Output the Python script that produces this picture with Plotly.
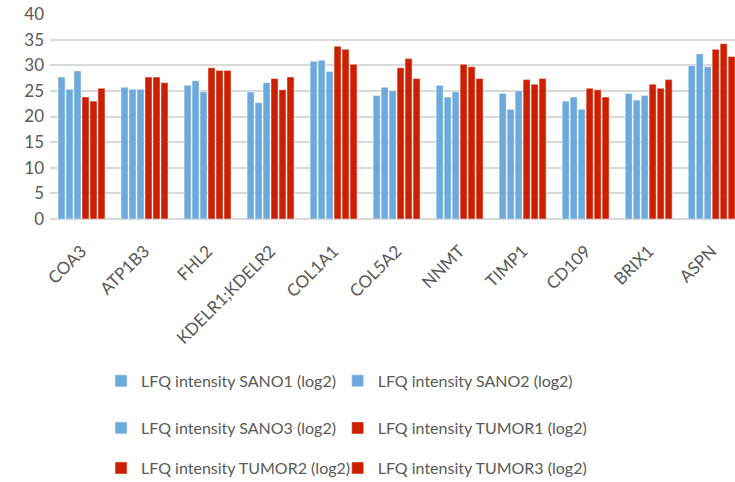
import plotly.graph_objects as go

proteins = ["COA3", "ATP1B3", "FHL2", "KDELR1;KDELR2", "COL1A1", "COL5A2",
            "NNMT", "TIMP1", "CD109", "BRIX1", "ASPN"]

sano1 = [27.7, 25.7, 26.1, 24.8, 30.8, 24.1, 26.1, 24.5, 23.0, 24.5, 29.9]
sano2 = [25.3, 25.3, 27.0, 22.7, 31.0, 25.7, 23.8, 21.4, 23.8, 23.2, 32.2]
sano3 = [28.9, 25.3, 24.8, 26.6, 28.8, 25.0, 24.8, 25.0, 21.4, 24.1, 29.7]
tumor1 = [23.8, 27.7, 29.5, 27.4, 33.7, 29.5, 30.2, 27.2, 25.5, 26.3, 33.1]
tumor2 = [23.0, 27.7, 29.0, 25.2, 33.1, 31.3, 29.7, 26.3, 25.2, 25.5, 34.2]
tumor3 = [25.5, 26.6, 29.0, 27.7, 30.2, 27.4, 27.4, 27.4, 23.8, 27.2, 31.7]

series = [
    ("LFQ intensity SANO1 (log2)", sano1, "#6CA9DC"),
    ("LFQ intensity SANO2 (log2)", sano2, "#6CA9DC"),
    ("LFQ intensity SANO3 (log2)", sano3, "#6CA9DC"),
    ("LFQ intensity TUMOR1 (log2)", tumor1, "#CC1F00"),
    ("LFQ intensity TUMOR2 (log2)", tumor2, "#CC1F00"),
    ("LFQ intensity TUMOR3 (log2)", tumor3, "#CC1F00"),
]

grey = "#595959"
font = "Lato, 'Open Sans', sans-serif"

fig = go.Figure()
legends = {}
col_x = [0.0745, 0.420]
row_y = [-0.79, -1.0195, -1.215]
for i, (name, vals, col) in enumerate(series):
    # one small legend per entry -> 2 x 3 grid below the chart
    key = "legend%d" % (i + 2)
    legends[key] = dict(x=col_x[i % 2], y=row_y[i // 2], xanchor="left", yanchor="middle",
                        font=dict(size=16, color=grey, family=font),
                        bgcolor="rgba(0,0,0,0)", itemclick=False)
    fig.add_trace(go.Bar(x=proteins, y=vals, name=name, legend=key,
                         marker=dict(color=col, line=dict(color="rgba(255,255,255,0.45)", width=1))))

fig.update_layout(
    width=735, height=482,
    margin=dict(l=50, r=0, t=14, b=263, autoexpand=False),
    paper_bgcolor="white", plot_bgcolor="white",
    barmode="group", bargap=0.24, bargroupgap=0.12,
    font=dict(family=font, color=grey),
    **legends,
)
fig.update_yaxes(range=[0, 40], dtick=5, showgrid=True, gridcolor="#D9D9D9", gridwidth=1.5,
                 zeroline=True, zerolinecolor="#D9D9D9", zerolinewidth=1.5, automargin=False,
                 tickfont=dict(size=17, color=grey), ticklabelstandoff=5, showline=False)
fig.update_xaxes(type="category", range=[-0.5, 10.37], tickangle=-45, automargin=False,
                 tickfont=dict(size=17, color=grey), ticklabelshift=0, ticklabelstandoff=18,
                 showline=False, showgrid=False)

# drop the default page margin so the figure sits at the window's corner
fig.write_html("out.html", config={"displayModeBar": False},
               post_script="document.body.style.margin='0';")
